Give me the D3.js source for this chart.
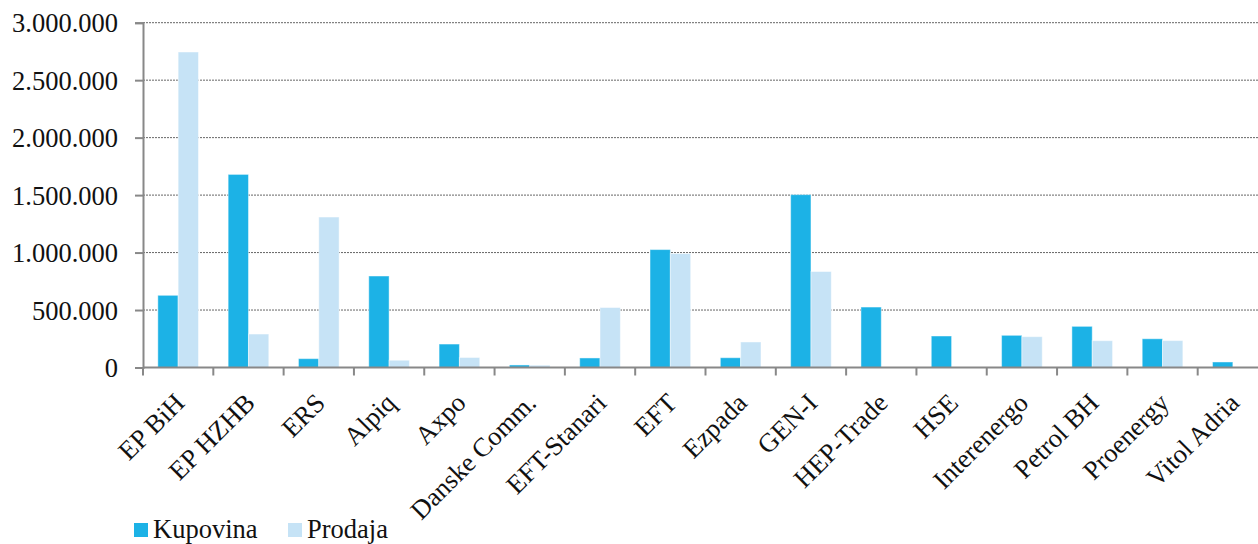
<!DOCTYPE html>
<html>
<head>
<meta charset="utf-8">
<script src="https://cdn.jsdelivr.net/npm/d3@7"></script>
<style>
  body { margin: 0; background: #fff; }
  svg { display: block; }
  svg text { font-family: "Liberation Serif", "Times New Roman", serif; font-size: 26.5px; fill: #111; }
</style>
</head>
<body>
<svg id="chart" width="1258" height="544"></svg>
<script>
// data
const companies = ["EP BiH", "EP HZHB", "ERS", "Alpiq", "Axpo", "Danske Comm.", "EFT-Stanari", "EFT",
  "Ezpada", "GEN-I", "HEP-Trade", "HSE", "Interenergo", "Petrol BH", "Proenergy", "Vitol Adria"];
const series = ["Kupovina", "Prodaja"];
const kupovina = [628000, 1680000, 77000, 796000, 204000, 22000, 83000, 1026000,
  85000, 1504000, 526000, 274000, 280000, 358000, 250000, 48000];
const prodaja = [2745000, 291000, 1309000, 63000, 87000, 20000, 522000, 991000,
  222000, 835000, 0, 0, 268000, 233000, 234000, 0];
const y_ticks = [0, 500000, 1000000, 1500000, 2000000, 2500000, 3000000];

const colors = { Kupovina: "#1cb2e6", Prodaja: "#c6e3f6" };

const svg = d3.select("#chart");
const plot_left = 143, plot_top = 22.7, plot_bottom = 367.5, plot_right = 1268;

// scales
const x0 = d3.scaleBand().domain(companies).range([plot_left, plot_right]).padding(0);
const bw = x0.bandwidth();
const x1 = d3.scaleBand().domain(series).range([bw * 0.211, bw * 0.789]).padding(0);
const y = d3.scaleLinear().domain([0, 3000000]).range([plot_bottom, plot_top]);

const loc = d3.formatLocale({ decimal: ",", thousands: ".", grouping: [3], currency: ["", ""] });
const fmt = loc.format(",");

// grid lines
svg.append("g")
  .selectAll("line")
  .data(y_ticks.filter(d => d > 0))
  .enter()
  .append("line")
  .attr("x1", plot_left)
  .attr("x2", plot_right)
  .attr("y1", d => y(d))
  .attr("y2", d => y(d))
  .attr("stroke", "#666")
  .attr("stroke-width", 1)
  .attr("stroke-dasharray", "2,1");

// bars
const rows = companies.map((c, i) => ({ company: c, Kupovina: kupovina[i], Prodaja: prodaja[i] }));
svg.append("g")
  .selectAll("g")
  .data(rows)
  .enter()
  .append("g")
  .attr("transform", d => "translate(" + x0(d.company) + ",0)")
  .selectAll("rect")
  .data(d => series.map(s => ({ s: s, v: d[s] })).filter(d => d.v > 0))
  .enter()
  .append("rect")
  .attr("x", d => x1(d.s))
  .attr("width", x1.bandwidth())
  .attr("y", d => y(d.v))
  .attr("height", d => y(0) - y(d.v))
  .attr("fill", d => colors[d.s])
  .attr("stroke", "rgba(255,255,255,0.45)")
  .attr("stroke-width", 1);

// y axis
const y_axis = svg.append("g")
  .attr("transform", "translate(" + plot_left + ",0)")
  .call(d3.axisLeft(y).tickValues(y_ticks).tickFormat(fmt).tickSize(8).tickPadding(17));
y_axis.attr("font-family", null).attr("font-size", null);
y_axis.select(".domain").attr("stroke", "#888").attr("stroke-width", 2);
y_axis.selectAll(".tick line").attr("stroke", "#888").attr("stroke-width", 2);
y_axis.selectAll(".tick text").attr("fill", "#111").attr("dy", "0.34em");

// x axis
const bounds = companies.map(c => x0(c));
const x_axis = svg.append("g").attr("transform", "translate(0," + plot_bottom + ")");
x_axis.append("line")
  .attr("x1", plot_left).attr("x2", plot_right)
  .attr("stroke", "#888").attr("stroke-width", 2);
x_axis.selectAll(".tk")
  .data(bounds)
  .enter()
  .append("line")
  .attr("class", "tk")
  .attr("x1", d => d).attr("x2", d => d)
  .attr("y1", 0).attr("y2", 8)
  .attr("stroke", "#888").attr("stroke-width", 2);

x_axis.selectAll(".lbl")
  .data(companies)
  .enter()
  .append("text")
  .attr("class", "lbl")
  .attr("transform", d => "translate(" + (x0(d) + bw / 2 + 8) + ",37) rotate(-45)")
  .attr("text-anchor", "end")
  .text(d => d);

// legend
const legend = svg.append("g").attr("transform", "translate(134,538)");
const leg_x = [0, 154];
legend.selectAll("rect")
  .data(series)
  .enter()
  .append("rect")
  .attr("x", (d, i) => leg_x[i])
  .attr("y", -15)
  .attr("width", 14)
  .attr("height", 14)
  .attr("fill", d => colors[d]);
legend.selectAll("text")
  .data(series)
  .enter()
  .append("text")
  .attr("x", (d, i) => leg_x[i] + 19)
  .attr("y", 0)
  .text(d => d);
</script>
</body>
</html>
